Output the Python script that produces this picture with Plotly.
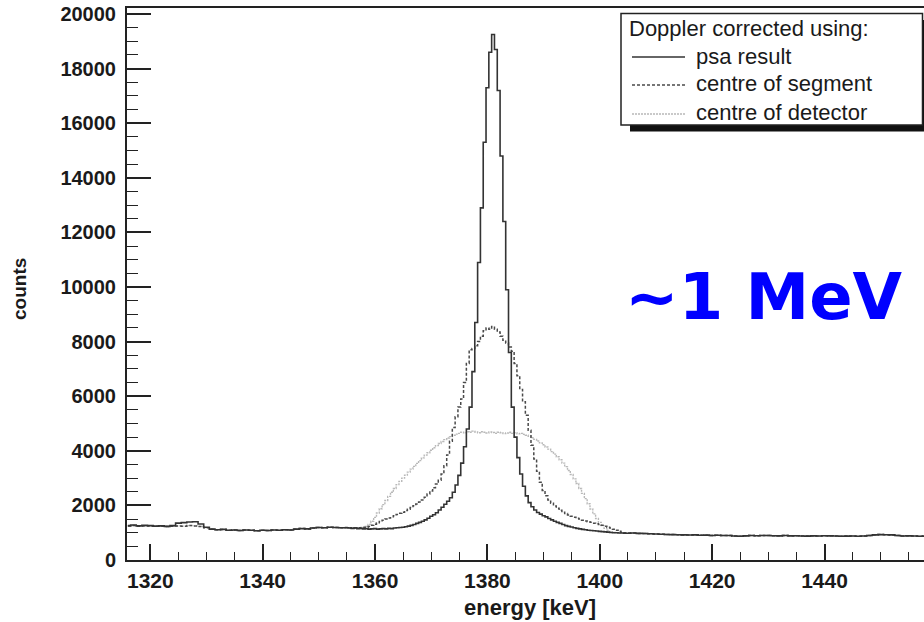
import numpy as np
import plotly.graph_objects as go

# ---------------- data ----------------
# energy grids [keV]
energy_left = list(range(1316, 1355))            # 1 keV bins, 1316..1354
energy_peak = [1355 + 0.5 * i for i in range(101)]  # 0.5 keV bins, 1355..1405
energy_right = list(range(1406, 1459))           # 1 keV bins, 1406..1458

# background below the line (counts)
psa_left = [1260, 1280, 1250, 1270, 1260, 1240, 1250, 1230, 1260, 1350,
            1370, 1390, 1400, 1320, 1200, 1130, 1110, 1120, 1090, 1100,
            1080, 1100, 1090, 1070, 1090, 1080, 1100, 1090, 1110, 1100,
            1130, 1150, 1140, 1170, 1190, 1180, 1200, 1190, 1180]
bg_left = [1250, 1260, 1240, 1250, 1245, 1235, 1240, 1225, 1240, 1250,
           1240, 1260, 1250, 1230, 1180, 1130, 1110, 1120, 1090, 1100,
           1080, 1100, 1090, 1070, 1090, 1080, 1100, 1090, 1110, 1100,
           1130, 1150, 1140, 1170, 1190, 1180, 1200, 1190, 1180]
bg_right = [990, 975, 970, 960, 950, 945, 935, 930, 925, 920,
            915, 920, 905, 910, 900, 905, 895, 900, 880, 870,
            885, 900, 890, 895, 900, 890, 885, 895, 885, 890,
            880, 875, 885, 880, 890, 885, 880, 870, 875, 880,
            870, 880, 900, 920, 930, 925, 920, 900, 880, 885,
            880, 870, 875]

# peak region, Doppler corrected using psa result
psa_peak = [1180, 1170, 1160, 1170, 1150, 1160, 1140, 1150, 1130, 1140,
            1150, 1130, 1140, 1150, 1140, 1160, 1150, 1170, 1180, 1190,
            1200, 1220, 1240, 1270, 1300, 1340, 1380, 1420, 1470, 1530,
            1600, 1660, 1730, 1830, 1930, 2040, 2150, 2280, 2480, 2750,
            3100, 3550, 4150, 4800, 5600, 6900, 8700, 10900, 12900, 15300,
            17300, 18600, 19250, 18700, 17200, 14800, 12400, 9900, 7600, 5600,
            4500, 3750, 3150, 2700, 2350, 2100, 1950, 1830, 1740, 1680,
            1620, 1580, 1520, 1470, 1420, 1380, 1340, 1300, 1260, 1230,
            1210, 1180, 1160, 1140, 1120, 1110, 1090, 1080, 1070, 1060,
            1050, 1040, 1030, 1020, 1010, 1000, 1000, 990, 990, 980,
            980]
# Doppler corrected using centre of segment
segment_peak = [1190, 1180, 1170, 1180, 1170, 1180, 1190, 1200, 1230, 1270,
                1310, 1360, 1410, 1460, 1500, 1540, 1580, 1620, 1670, 1710,
                1750, 1810, 1860, 1920, 1990, 2050, 2120, 2200, 2300, 2420,
                2530, 2650, 2780, 2920, 3150, 3450, 3850, 4350, 4850, 5250,
                5600, 5900, 6500, 7200, 7700, 7750, 7850, 8000, 8200, 8400,
                8500, 8450, 8550, 8450, 8350, 8200, 8050, 7950, 7800, 7650,
                7200, 6750, 6250, 5800, 5300, 4750, 4200, 3700, 3250, 2850,
                2550, 2350, 2200, 2080, 1980, 1900, 1820, 1750, 1700, 1650,
                1600, 1570, 1530, 1500, 1460, 1430, 1400, 1380, 1350, 1330,
                1300, 1270, 1240, 1200, 1170, 1130, 1090, 1050, 1020, 1000,
                990]
# Doppler corrected using centre of detector
detector_peak = [1170, 1160, 1180, 1170, 1180, 1190, 1200, 1230, 1300, 1420,
                 1560, 1720, 1880, 2030, 2180, 2330, 2480, 2620, 2760, 2880,
                 3000, 3110, 3220, 3330, 3430, 3540, 3640, 3740, 3840, 3930,
                 4020, 4110, 4190, 4270, 4340, 4410, 4470, 4520, 4570, 4610,
                 4640, 4680, 4660, 4700, 4680, 4720, 4690, 4660, 4700, 4680,
                 4650, 4690, 4670, 4640, 4680, 4660, 4630, 4650, 4680, 4640,
                 4660, 4620, 4640, 4600, 4570, 4530, 4480, 4420, 4360, 4290,
                 4220, 4140, 4060, 3970, 3880, 3780, 3670, 3550, 3420, 3280,
                 3130, 2970, 2800, 2620, 2440, 2250, 2060, 1870, 1690, 1520,
                 1380, 1260, 1160, 1080, 1030, 1010, 1000, 990, 990, 980,
                 975]

series_names = ["psa result", "centre of segment", "centre of detector"]
x_ticks = [1320, 1340, 1360, 1380, 1400, 1420, 1440]
y_ticks = [0, 2000, 4000, 6000, 8000, 10000, 12000, 14000, 16000, 18000, 20000]

# ---------------- figure ----------------
W, H = 924, 622
L, R, T, B = 127, 924, 8, 560


def px(xp):
    return (xp - L) / (R - L)


def py(yp):
    return (B - yp) / (B - T)


energy_all = energy_left + energy_peak + energy_right
fig = go.Figure()
fig.add_trace(go.Scatter(
    x=energy_all, y=bg_left + detector_peak + bg_right, mode="lines",
    line=dict(color="#b8b8b8", width=1.4, dash="2px,1px", shape="hvh"),
    name=series_names[2], showlegend=False))
fig.add_trace(go.Scatter(
    x=energy_all, y=bg_left + segment_peak + bg_right, mode="lines",
    line=dict(color="#4a4a4a", width=1.5, dash="3px,2px", shape="hvh"),
    name=series_names[1], showlegend=False))
fig.add_trace(go.Scatter(
    x=energy_all, y=psa_left + psa_peak + bg_right, mode="lines",
    line=dict(color="#333333", width=1.6, shape="hvh"),
    name=series_names[0], showlegend=False))

yfont = dict(family="Liberation Sans, Arial, sans-serif", size=20,
             color="#1a1a1a", weight="bold")
xfont = dict(family="Liberation Sans, Arial, sans-serif", size=21,
             color="#1a1a1a", weight="bold")

fig.update_layout(
    width=W, height=H,
    margin=dict(l=L, r=W - R, t=T, b=H - B, pad=0, autoexpand=False),
    paper_bgcolor="white", plot_bgcolor="white",
    showlegend=False,
    xaxis=dict(range=[1315.85, 1457.7], tickvals=x_ticks, tickformat="d",
               ticks="inside", ticklen=16, tickwidth=1.5, tickcolor="#222",
               showline=True, linecolor="#222", linewidth=2, mirror=True,
               showgrid=False, zeroline=False, tickfont=xfont,
               ticklabelstandoff=1, automargin=False,
               minor=dict(dtick=5, tick0=1320, ticks="inside", ticklen=8,
                          tickwidth=1.2, tickcolor="#222", showgrid=False)),
    yaxis=dict(range=[0, 20220], tickvals=y_ticks, tickformat="d",
               ticks="inside", ticklen=24, tickwidth=1.5, tickcolor="#222",
               showline=True, linecolor="#222", linewidth=2, mirror=False,
               showgrid=False, zeroline=False, tickfont=yfont,
               ticklabelstandoff=5, automargin=False,
               minor=dict(dtick=500, tick0=0, ticks="inside", ticklen=11,
                          tickwidth=1.2, tickcolor="#222", showgrid=False)),
)

# axis titles
fig.add_annotation(text="<b>counts</b>", xref="paper", yref="paper",
                   x=px(20), y=py(289), textangle=-90, showarrow=False,
                   xanchor="center", yanchor="middle",
                   font=dict(family="Liberation Sans, Arial", size=19, color="#1a1a1a"))
fig.add_annotation(text="<b>energy [keV]</b>", xref="paper", yref="paper",
                   x=px(598), y=py(607), showarrow=False,
                   xanchor="right", yanchor="middle",
                   font=dict(family="Liberation Sans, Arial", size=22, color="#1a1a1a"))

# big blue label
fig.add_annotation(text="<b>~1 MeV</b>", xref="paper", yref="paper",
                   x=px(764), y=py(297), showarrow=False,
                   xanchor="center", yanchor="middle",
                   font=dict(family="DejaVu Sans", size=64, color="#0000ff"))

# legend box (with ROOT-style shadow)
fig.add_shape(type="rect", xref="paper", yref="paper",
              x0=px(630), x1=px(930), y0=py(131.5), y1=py(20),
              fillcolor="#111", line=dict(width=0), layer="above")
fig.add_shape(type="rect", xref="paper", yref="paper",
              x0=px(621), x1=px(922.5), y0=py(125), y1=py(13.5),
              fillcolor="white", line=dict(color="#222", width=1.5), layer="above")
legend_font = dict(family="Liberation Sans, Arial", size=22, color="#1a1a1a")
fig.add_annotation(text="Doppler corrected using:", xref="paper", yref="paper",
                   x=px(627), y=py(29), showarrow=False, xanchor="left",
                   yanchor="middle", font=legend_font)
legend_styles = [dict(color="#333333", width=1.6),
                 dict(color="#4a4a4a", width=1.5, dash="3px,2px"),
                 dict(color="#b8b8b8", width=1.4, dash="2px,1px")]
legend_y = [57, 85, 114]
for name, style, yy in zip(series_names, legend_styles, legend_y):
    fig.add_shape(type="line", xref="paper", yref="paper",
                  x0=px(632), x1=px(685), y0=py(yy), y1=py(yy),
                  line=style, layer="above")
    fig.add_annotation(text=name, xref="paper", yref="paper",
                       x=px(694), y=py(yy - 1), showarrow=False, xanchor="left",
                       yanchor="middle", font=legend_font)

fig.write_html("out.html", config={"displayModeBar": False},
               post_script="document.body.style.margin='0';"
                           "document.body.style.overflow='hidden';")
